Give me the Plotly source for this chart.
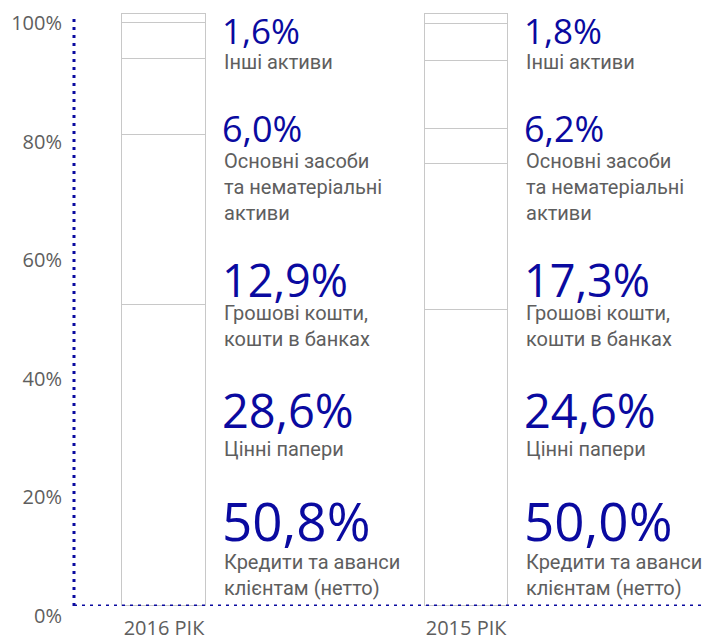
import plotly.graph_objects as go

# ---------------- data ----------------
categories = ["2016 РІК", "2015 РІК"]
segment_names = [
    "Кредити та аванси<br>клієнтам (нетто)",
    "Цінні папери",
    "Грошові кошти,<br>кошти в банках",
    "Основні засоби<br>та нематеріальні<br>активи",
    "Інші активи",
]
share_2016 = [50.8, 28.6, 12.9, 6.0, 1.6]
share_2015 = [50.0, 24.6, 17.3, 6.2, 1.8]
# the 2015 cash segment is drawn in two pieces in the original picture
cash_pieces_2015 = [5.8, 11.5]
y_tick_vals = [0, 20, 40, 60, 80, 100]
y_tick_text = ["0%", "20%", "40%", "60%", "80%", "100%"]

# ---------------- styles ----------------
BLUE = "#0a0aa0"
GREY_TXT = "#5e5e5e"
BAR_LINE = "#c8c8c8"
BAR_W = 0.275
num_sizes = [53, 47, 45, 36, 35]
# layout positions (pixels from top of the figure)
num_center_px = [520, 410, 279, 128.5, 30.5]
label_top_px = [548, 435, 299, 147, 48]
PLOT_TOP, PLOT_BOTTOM = 13, 606


def paper_y(px):
    return (PLOT_BOTTOM - px) / (PLOT_BOTTOM - PLOT_TOP)


fig = go.Figure()
x_idx = list(range(len(categories)))


def add_bar(vals):
    fig.add_trace(go.Bar(
        x=x_idx, y=vals, width=BAR_W,
        marker=dict(color="white", line=dict(color=BAR_LINE, width=1)),
        hoverinfo="skip", showlegend=False,
    ))


for i in range(len(segment_names)):
    if i == 2:
        add_bar([share_2016[i], cash_pieces_2015[0]])
        add_bar([None, cash_pieces_2015[1]])
    else:
        add_bar([share_2016[i], share_2015[i]])

annotations = []
for ci, shares in enumerate([share_2016, share_2015]):
    for i, v in enumerate(shares):
        txt = f"{v:.1f}".replace(".", ",") + "%"
        annotations.append(dict(
            x=ci, xref="x", xshift=56, xanchor="left",
            y=paper_y(num_center_px[i]), yref="paper", yanchor="middle",
            text=txt, showarrow=False, align="left",
            font=dict(family="Open Sans", size=num_sizes[i], color=BLUE),
        ))
        annotations.append(dict(
            x=ci, xref="x", xshift=58, xanchor="left",
            y=paper_y(label_top_px[i]), yref="paper", yanchor="top",
            text=segment_names[i], showarrow=False, align="left",
            font=dict(family="Roboto", size=20, color=GREY_TXT),
        ))

shapes = [
    dict(type="line", xref="paper", yref="y", x0=0, x1=0, y0=0, y1=99.7,
         line=dict(color=BLUE, width=3, dash="3px,5px"), layer="above"),
    dict(type="line", xref="paper", yref="y", x0=0, x1=1, y0=0, y1=0,
         line=dict(color=BLUE, width=3, dash="3px,5px"), layer="above"),
]

fig.update_layout(
    width=702, height=638,
    margin=dict(l=74, r=0, t=PLOT_TOP, b=638 - PLOT_BOTTOM, autoexpand=False),
    barmode="stack", bargap=0,
    paper_bgcolor="white", plot_bgcolor="white",
    showlegend=False,
    annotations=annotations, shapes=shapes,
    xaxis=dict(
        range=[-0.298, 1.781], tickvals=x_idx, ticktext=categories,
        showgrid=False, zeroline=False, showline=False, ticks="",
        tickfont=dict(family="Open Sans", size=20, color=GREY_TXT),
        ticklabelstandoff=8,
    ),
    yaxis=dict(
        range=[0, 100], tickvals=y_tick_vals, ticktext=y_tick_text,
        showgrid=False, zeroline=False, showline=False, ticks="",
        tickfont=dict(family="Open Sans", size=20, color=GREY_TXT),
        ticklabelstandoff=11, ticklabelshift=10,
    ),
)

fig.write_html("out.html", config={"displayModeBar": False},
               post_script="document.body.style.margin='0';")
